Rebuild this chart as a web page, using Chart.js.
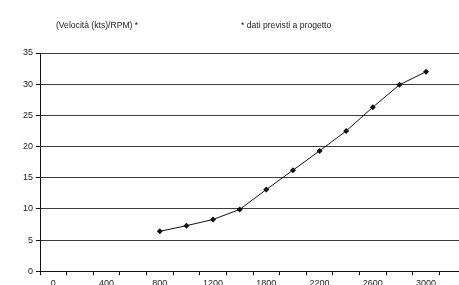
<!DOCTYPE html>
<html>
<head>
<meta charset="utf-8">
<script src="https://cdn.jsdelivr.net/npm/chart.js@4/dist/chart.umd.min.js"></script>
<style>
  html, body { margin: 0; padding: 0; background: #fff; overflow: hidden; }
  #wrap { position: relative; width: 470px; height: 300px; }
</style>
</head>
<body>
<div id="wrap"><canvas id="chart"></canvas></div>
<script>
// categorie (RPM) e velocità previste
const rpm = ['0', '200', '400', '600', '800', '1000', '1200', '1500', '1800', '2000',
             '2200', '2400', '2600', '2800', '3000', '3200'];
const velocita = [null, null, null, null, 6.4, 7.3, 8.3, 9.9, 13.1, 16.2,
                  19.3, 22.5, 26.3, 29.9, 32.0, null];
const yTicks = [0, 5, 10, 15, 20, 25, 30, 35];

const titles = ['(Velocità (kts)/RPM) *', '* dati previsti a progetto'];

// testi sopra il grafico
const titlePlugin = {
  id: 'titoli',
  afterDraw(chart) {
    const ctx = chart.ctx;
    ctx.save();
    ctx.font = '8.6px "Liberation Sans", Arial, sans-serif';
    ctx.fillStyle = '#222';
    ctx.textBaseline = 'alphabetic';
    ctx.fillText(titles[0], 56, 28);
    ctx.fillText(titles[1], 241, 28);
    ctx.restore();
  }
};

const tickFont = { family: '"Liberation Sans", Arial, sans-serif', size: 9 };

new Chart(document.getElementById('chart'), {
  type: 'line',
  data: {
    labels: rpm,
    datasets: [{
      label: 'Velocità',
      data: velocita,
      borderColor: '#111',
      borderWidth: 1,
      backgroundColor: '#111',
      pointStyle: 'rectRot',
      pointRadius: 3,
      pointBorderWidth: 0,
      tension: 0,
      spanGaps: false
    }]
  },
  options: {
    responsive: true,
    maintainAspectRatio: false,
    animation: false,
    layout: { padding: { top: 53, right: 3, bottom: 8, left: 0 } },
    plugins: {
      legend: { display: false },
      tooltip: { enabled: false }
    },
    scales: {
      x: {
        type: 'category',
        offset: true,
        grid: {
          offset: true,
          drawOnChartArea: false,
          drawTicks: true,
          tickLength: 4,
          tickColor: '#111'
        },
        border: { color: '#111', width: 1 },
        ticks: {
          autoSkip: false,
          maxRotation: 0,
          padding: 3,
          color: '#222',
          font: tickFont,
          callback: (v, i) => (i % 2 === 0 && i < 15 ? rpm[i] : '')
        }
      },
      y: {
        min: 0,
        max: 35,
        afterFit: s => { s.width = 40; },
        afterBuildTicks: s => { s.ticks = yTicks.map(v => ({ value: v })); },
        grid: {
          color: '#3a3a3a',
          lineWidth: 1,
          tickLength: 4,
          tickColor: '#111'
        },
        border: { color: '#111', width: 1 },
        ticks: {
          padding: 3,
          color: '#222',
          font: tickFont
        }
      }
    }
  },
  plugins: [titlePlugin]
});
</script>
</body>
</html>
